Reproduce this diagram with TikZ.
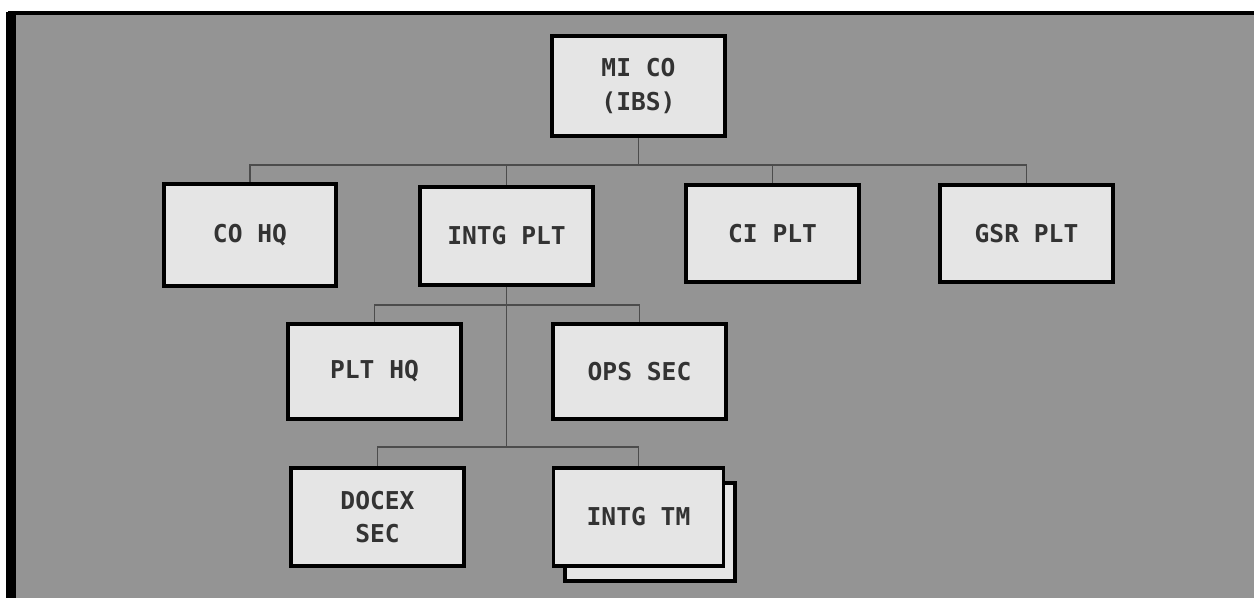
\documentclass[tikz,border=0pt]{standalone}
\usepackage{fontspec}
\setmonofont{DejaVu Sans Mono}
\begin{document}
\begin{tikzpicture}[x=0.02cm,y=-0.02cm,
  orgbox/.style={draw=black, line width=2.2pt, fill=black!10, inner sep=0pt,
    minimum width=3.45cm, minimum height=1.95cm, align=center,
    font=\ttfamily\bfseries\fontsize{14}{19}\selectfont, text=black!80},
  link/.style={draw=black!70, line width=0.9pt}]
\useasboundingbox (0,0) rectangle (1254,598);
% background
\fill[black!42] (8,12) rectangle (1254,598);
\draw[line width=1.8pt] (8,13) -- (1254,13);
\draw[line width=6pt] (11,12) -- (11,598);
% coordinates for buses
\coordinate (b1) at (638.5,165);
\coordinate (b2) at (506.5,305);
\coordinate (b3) at (506.5,447);
% nodes
\node[orgbox, minimum height=2.0cm] (mico) at (638.5,86) {MI CO\\(IBS)};
\node[orgbox, minimum height=2.05cm] (cohq) at (250,235) {CO HQ};
\node[orgbox] (intg) at (506.5,236) {INTG PLT};
\node[orgbox] (ci) at (772.5,233.5) {CI PLT};
\node[orgbox] (gsr) at (1026.5,233.5) {GSR PLT};
\node[orgbox, minimum height=1.9cm] (plthq) at (374.5,371.5) {PLT HQ};
\node[orgbox, minimum height=1.9cm] (ops) at (639.5,371.5) {OPS SEC};
\node[orgbox] (docex) at (377.5,517) {DOCEX\\SEC};
\node[orgbox, minimum width=3.4cm] (intgtmback) at (650,532) {};
\node[orgbox, minimum width=3.4cm] (intgtm) at (638.5,517) {INTG TM};
% connectors
\draw[link] (mico) -- (b1);
\draw[link] (b1) -| (cohq);
\draw[link] (b1) -| (intg);
\draw[link] (b1) -| (ci);
\draw[link] (b1) -| (gsr);
\draw[link] (intg) -- (b3);
\draw[link] (b2) -| (plthq);
\draw[link] (b2) -| (ops);
\draw[link] (b3) -| (docex);
\draw[link] (b3) -| (intgtm);
\end{tikzpicture}
\end{document}
